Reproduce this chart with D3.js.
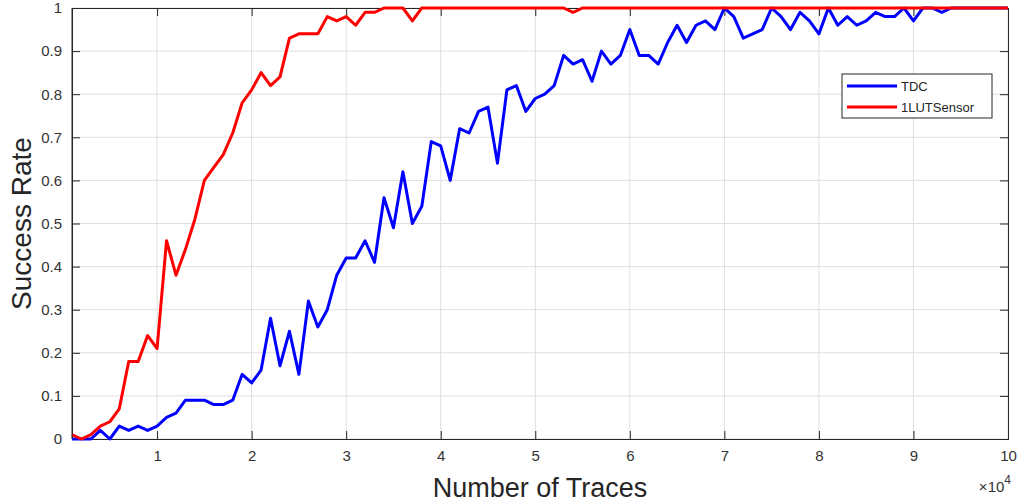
<!DOCTYPE html>
<html>
<head>
<meta charset="utf-8">
<script src="https://cdnjs.cloudflare.com/ajax/libs/d3/7.8.5/d3.min.js"></script>
<style>
  body { margin: 0; background: #fff; }
  svg { display: block; font-family: "Liberation Sans", Arial, sans-serif; }
  .grid line { stroke: #dedede; stroke-width: 1; }
  .tick text { fill: #333; }
</style>
</head>
<body>
<div id="chart"></div>
<script>
var width = 1019,
    height = 504;
var margin = {top: 8, right: 11, bottom: 65, left: 72};

// traces, in units of 1000
var traces = d3.range(1, 101).map(function(k) { return k * 1000; });

var tdc = [
    0, 0, 0, 0.02, 0, 0.03, 0.02, 0.03, 0.02, 0.03,
    0.05, 0.06, 0.09, 0.09, 0.09, 0.08, 0.08, 0.09, 0.15, 0.13,
    0.16, 0.28, 0.17, 0.25, 0.15, 0.32, 0.26, 0.30, 0.38, 0.42,
    0.42, 0.46, 0.41, 0.56, 0.49, 0.62, 0.50, 0.54, 0.69, 0.68,
    0.60, 0.72, 0.71, 0.76, 0.77, 0.64, 0.81, 0.82, 0.76, 0.79,
    0.80, 0.82, 0.89, 0.87, 0.88, 0.83, 0.90, 0.87, 0.89, 0.95,
    0.89, 0.89, 0.87, 0.92, 0.96, 0.92, 0.96, 0.97, 0.95, 1.00,
    0.98, 0.93, 0.94, 0.95, 1.00, 0.98, 0.95, 0.99, 0.97, 0.94,
    1.00, 0.96, 0.98, 0.96, 0.97, 0.99, 0.98, 0.98, 1.00, 0.97,
    1.00, 1.00, 0.99, 1.00, 1.00, 1.00, 1.00, 1.00, 1.00, 1.00
];

var lutSensor = [
    0.01, 0, 0.01, 0.03, 0.04, 0.07, 0.18, 0.18, 0.24, 0.21,
    0.46, 0.38, 0.44, 0.51, 0.60, 0.63, 0.66, 0.71, 0.78, 0.81,
    0.85, 0.82, 0.84, 0.93, 0.94, 0.94, 0.94, 0.98, 0.97, 0.98,
    0.96, 0.99, 0.99, 1.00, 1.00, 1.00, 0.97, 1.00, 1.00, 1.00,
    1.00, 1.00, 1.00, 1.00, 1.00, 1.00, 1.00, 1.00, 1.00, 1.00,
    1.00, 1.00, 1.00, 0.99, 1.00, 1.00, 1.00, 1.00, 1.00, 1.00,
    1.00, 1.00, 1.00, 1.00, 1.00, 1.00, 1.00, 1.00, 1.00, 1.00,
    1.00, 1.00, 1.00, 1.00, 1.00, 1.00, 1.00, 1.00, 1.00, 1.00,
    1.00, 1.00, 1.00, 1.00, 1.00, 1.00, 1.00, 1.00, 1.00, 1.00,
    1.00, 1.00, 1.00, 1.00, 1.00, 1.00, 1.00, 1.00, 1.00, 1.00
];

var xTicks = [10000, 20000, 30000, 40000, 50000, 60000, 70000, 80000, 90000, 100000];
var yTicks = [0, 0.1, 0.2, 0.3, 0.4, 0.5, 0.6, 0.7, 0.8, 0.9, 1];

var seriesNames = ['TDC', '1LUTSensor'];
var seriesColors = ['#0000ff', '#ff0000'];
var series = [tdc, lutSensor];

var w = width - margin.left - margin.right,
    h = height - margin.top - margin.bottom;

var svg = d3.select('#chart').append('svg')
    .attr('width', width)
    .attr('height', height);
var vis = svg.append('g')
    .attr('transform', 'translate(' + margin.left + ',' + margin.top + ')');

var x = d3.scaleLinear().domain([1000, 100000]).range([0, w]);
var y = d3.scaleLinear().domain([0, 1]).range([h, 0]);

// grid
var grid = vis.append('g').attr('class', 'grid');
grid.selectAll('line.v').data(xTicks).enter().append('line')
    .attr('x1', x).attr('x2', x).attr('y1', 0).attr('y2', h);
grid.selectAll('line.h').data(yTicks).enter().append('line')
    .attr('y1', y).attr('y2', y).attr('x1', 0).attr('x2', w);

// axes, ticks pointing in like matlab
var axisColor = '#262626';
var tl = 8;
var xAxis = vis.append('g')
    .attr('transform', 'translate(0,' + h + ')')
    .call(d3.axisBottom(x).tickValues(xTicks).tickSize(-tl).tickPadding(11)
        .tickFormat(function(d) { return d / 10000; }));
var xTop = vis.append('g')
    .call(d3.axisTop(x).tickValues(xTicks).tickSize(-tl).tickFormat(''));
var yAxis = vis.append('g')
    .call(d3.axisLeft(y).tickValues(yTicks).tickSize(-tl).tickPadding(10)
        .tickFormat(function(d) { return d3.format('~g')(d); }));
var yRight = vis.append('g')
    .attr('transform', 'translate(' + w + ',0)')
    .call(d3.axisRight(y).tickValues(yTicks).tickSize(-tl).tickFormat(''));

[xAxis, xTop, yAxis, yRight].forEach(function(a) {
    a.selectAll('path, line').attr('stroke', axisColor);
    a.selectAll('text').style('font-size', '15px');
});

// lines
var line = d3.line()
    .x(function(d, i) { return x(traces[i]); })
    .y(function(d) { return y(d); });

series.forEach(function(s, i) {
    vis.append('path')
        .datum(s)
        .attr('fill', 'none')
        .attr('stroke', seriesColors[i])
        .attr('stroke-width', 3)
        .attr('stroke-linejoin', 'round')
        .attr('d', line);
});

vis.append('line').attr('x1', 0).attr('x2', 0).attr('y1', 0).attr('y2', h)
    .attr('stroke', axisColor);

// labels
svg.append('text')
    .attr('x', margin.left + w / 2)
    .attr('y', 497)
    .attr('text-anchor', 'middle')
    .attr('fill', axisColor)
    .style('font-size', '27px')
    .text('Number of Traces');

svg.append('text')
    .attr('transform', 'translate(31,' + (margin.top + h / 2) + ') rotate(-90)')
    .attr('text-anchor', 'middle')
    .attr('fill', axisColor)
    .style('font-size', '28px')
    .text('Success Rate');

var expo = svg.append('text')
    .attr('x', 1011)
    .attr('y', 492)
    .attr('text-anchor', 'end')
    .attr('fill', '#333')
    .style('font-size', '15px');
expo.append('tspan').text('\u00d7');
expo.append('tspan').text('10');
expo.append('tspan').attr('dy', -8).style('font-size', '12px').text('4');

// legend
var legend = svg.append('g').attr('transform', 'translate(842,74)');
legend.append('rect')
    .attr('width', 150).attr('height', 44)
    .attr('fill', '#fff').attr('stroke', axisColor).attr('stroke-width', 1);
var items = legend.selectAll('g').data(seriesNames).enter().append('g')
    .attr('transform', function(d, i) { return 'translate(0,' + (12 + i * 21) + ')'; });
items.append('line')
    .attr('x1', 5).attr('x2', 55)
    .attr('stroke', function(d, i) { return seriesColors[i]; })
    .attr('stroke-width', 3);
items.append('text')
    .attr('x', 59).attr('y', 5)
    .attr('fill', axisColor)
    .style('font-size', '13px')
    .text(function(d) { return d; });
</script>
</body>
</html>
